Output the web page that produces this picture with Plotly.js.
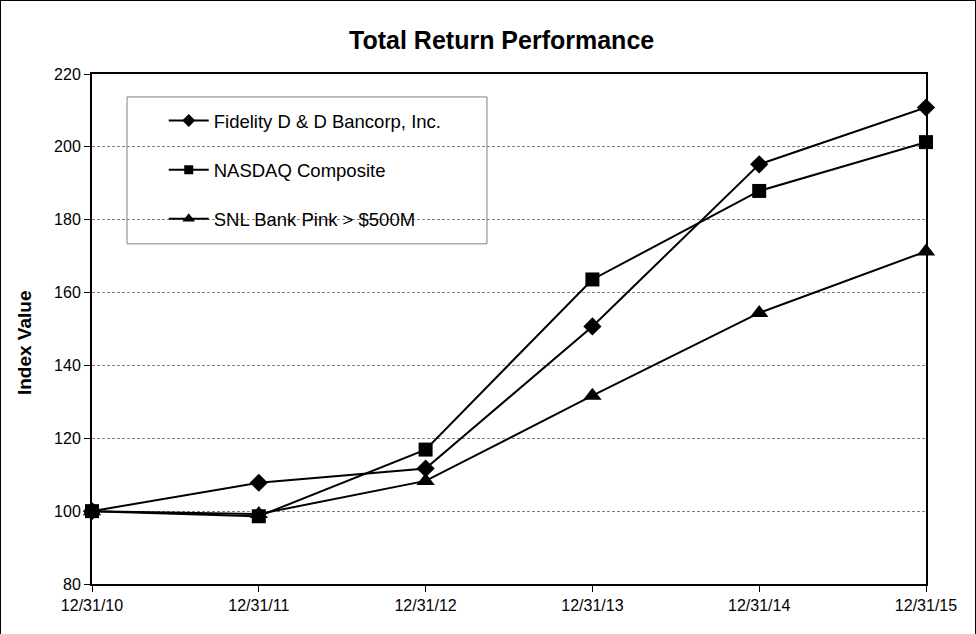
<!DOCTYPE html>
<html>
<head>
<meta charset="utf-8">
<script src="https://cdn.plot.ly/plotly-3.0.1.min.js"></script>
<style>
html,body{margin:0;padding:0;background:#fff;}
#chart{width:974px;height:633px;border:1px solid #000;box-sizing:content-box;}
</style>
</head>
<body>
<div id="chart"></div>
<script>
const categories = ["12/31/10","12/31/11","12/31/12","12/31/13","12/31/14","12/31/15"];
const fidelity = [100, 107.8, 111.7, 150.7, 195.2, 210.8];
const nasdaq   = [100, 98.6, 116.9, 163.6, 187.9, 201.3];
const snl      = [100, 99.2, 108.3, 131.7, 154.4, 171.3];
const seriesNames = ["Fidelity D & D Bancorp, Inc.", "NASDAQ Composite", "SNL Bank Pink > $500M"];
const yTicks = [80,100,120,140,160,180,200,220];

const xIdx = categories.map((c,i)=>i);
const font = "Arial, 'Liberation Sans', sans-serif";

function tr(y, name, symbol, size, grp){
  return {
    x: xIdx, y: y, name: name, type: 'scatter', mode: 'lines+markers',
    line: {color: '#000', width: 2},
    marker: {symbol: symbol, size: size, color: '#000'},
    cliponaxis: false, legendgroup: grp, showlegend: false
  };
}
// legend-only entries (smaller symbols, as in the reference legend)
function leg(name, symbol, size, grp){
  return {
    x: [null], y: [null], name: name, type: 'scatter', mode: 'lines+markers',
    line: {color: '#000', width: 2},
    marker: {symbol: symbol, size: size, color: '#000'},
    legendgroup: grp, showlegend: true, hoverinfo: 'skip'
  };
}

const data = [
  tr(fidelity, seriesNames[0], 'diamond', 14, 'a'),
  tr(nasdaq, seriesNames[1], 'square', 14, 'b'),
  tr(snl, seriesNames[2], 'triangle-up', 16, 'c'),
  leg(seriesNames[0], 'diamond', 10, 'a'),
  leg(seriesNames[1], 'square', 9, 'b'),
  leg(seriesNames[2], 'triangle-up', 11, 'c')
];

const layout = {
  width: 974, height: 633,
  margin: {l: 91, r: 49, t: 73, b: 50},
  paper_bgcolor: '#fff', plot_bgcolor: '#fff',
  font: {family: font, color: '#000', size: 16},
  title: {text: '<b>Total Return Performance</b>', x: 0.514, xanchor: 'center', y: 0.938, yanchor: 'middle',
          font: {family: font, size: 25, color: '#000'}},
  xaxis: {
    range: [0, 5], tickvals: xIdx, ticktext: categories,
    showgrid: false, zeroline: false,
    showline: true, linecolor: '#000', linewidth: 2, mirror: true,
    ticks: 'outside', ticklen: 6, tickcolor: '#000', tickwidth: 1,
    tickfont: {family: font, size: 16, color: '#000'}
  },
  yaxis: {
    range: [80, 220], tickvals: yTicks,
    showgrid: true, gridcolor: '#808080', gridwidth: 1, griddash: '3px,2px',
    zeroline: false,
    showline: true, linecolor: '#000', linewidth: 2, mirror: true,
    ticks: 'outside', ticklen: 6, tickcolor: '#000', tickwidth: 1,
    tickfont: {family: font, size: 16, color: '#000'}
  },
  annotations: [{
    text: '<b>Index Value</b>', xref: 'paper', yref: 'paper',
    x: -0.0809, y: 0.4735, xanchor: 'center', yanchor: 'middle',
    textangle: -90, showarrow: false,
    font: {family: font, size: 19, color: '#000'}
  }],
  showlegend: true,
  legend: {
    x: 0.086, xanchor: 'left', y: 0.945, yanchor: 'top',
    bgcolor: 'rgba(0,0,0,0)', borderwidth: 0,
    traceorder: 'grouped', tracegroupgap: 22,
    font: {family: font, size: 18.5, color: '#000'},
    itemwidth: 40
  },
  shapes: [{
    type: 'rect', xref: 'paper', yref: 'paper',
    x0: 0.042, x1: 0.4736, y0: 0.667, y1: 0.955,
    line: {color: '#808080', width: 1}, fillcolor: '#fff', layer: 'below'
  }]
};

Plotly.newPlot('chart', data, layout, {displayModeBar: false, staticPlot: true});
</script>
</body>
</html>
